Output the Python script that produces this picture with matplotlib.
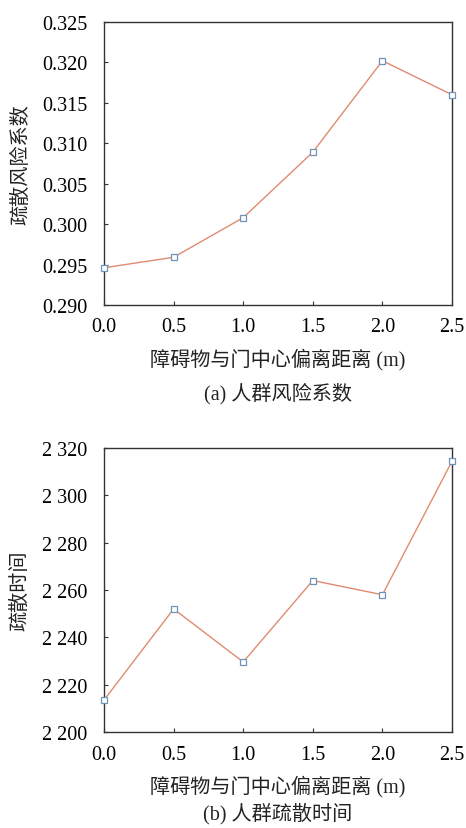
import matplotlib
matplotlib.use("Agg")
import matplotlib.pyplot as plt

plt.rcParams['font.family'] = ['Liberation Serif', 'Noto Sans CJK SC']
plt.rcParams['font.size'] = 14.5

# data
offset = [0.0, 0.5, 1.0, 1.5, 2.0, 2.5]
risk = [0.2946, 0.2959, 0.3008, 0.3089, 0.3202, 0.3160]
evac_time = [2213.5, 2252, 2229.6, 2264, 2258, 2314.4]

risk_ticks = [0.290, 0.295, 0.300, 0.305, 0.310, 0.315, 0.320, 0.325]
risk_ticklabels = ['0.290', '0.295', '0.300', '0.305', '0.310', '0.315', '0.320', '0.325']
time_ticks = [2200, 2220, 2240, 2260, 2280, 2300, 2320]
time_ticklabels = ['2 200', '2 220', '2 240', '2 260', '2 280', '2 300', '2 320']
x_ticklabels = ['0.0', '0.5', '1.0', '1.5', '2.0', '2.5']

xlab = '障碍物与门中心偏离距离 (m)'
line_col = '#E08B70'
mark_col = '#6F93B8'

fig = plt.figure(figsize=(4.66, 8.29), dpi=100)
ax1 = fig.add_axes([0.2232, 0.6309, 0.7468, 0.3414])
ax2 = fig.add_axes([0.2232, 0.1158, 0.7468, 0.3426])


def style(ax, y, ticks, ticklabels, ylab, cap, cap_y):
    ax.plot(offset, y, color=line_col, lw=1.0, marker='s', ms=4,
            mfc='white', mec=mark_col, mew=0.9, clip_on=False, zorder=3)
    ax.set_xlim(0, 2.5)
    ax.set_ylim(ticks[0], ticks[-1])
    ax.set_xticks(offset)
    ax.set_xticklabels(x_ticklabels)
    ax.set_yticks(ticks)
    ax.set_yticklabels(ticklabels)
    ax.tick_params(direction='in', length=3, width=0.8, color='#333333')
    ax.tick_params(axis='y', pad=12)
    ax.tick_params(axis='x', pad=9)
    for s in ax.spines.values():
        s.set_linewidth(1.0)
        s.set_color('#333333')
    ax.set_ylabel(ylab, labelpad=8, color='#222222')
    ax.set_xlabel(xlab, labelpad=8, color='#222222')
    ax.text(0.5, cap_y, cap, transform=ax.transAxes, ha='center', va='center',
            color='#222222')


style(ax1, risk, risk_ticks, risk_ticklabels, '疏散风险系数', '(a) 人群风险系数', -0.31)
style(ax2, evac_time, time_ticks, time_ticklabels, '疏散时间', '(b) 人群疏散时间', -0.285)

fig.savefig('out.png', dpi=100)
